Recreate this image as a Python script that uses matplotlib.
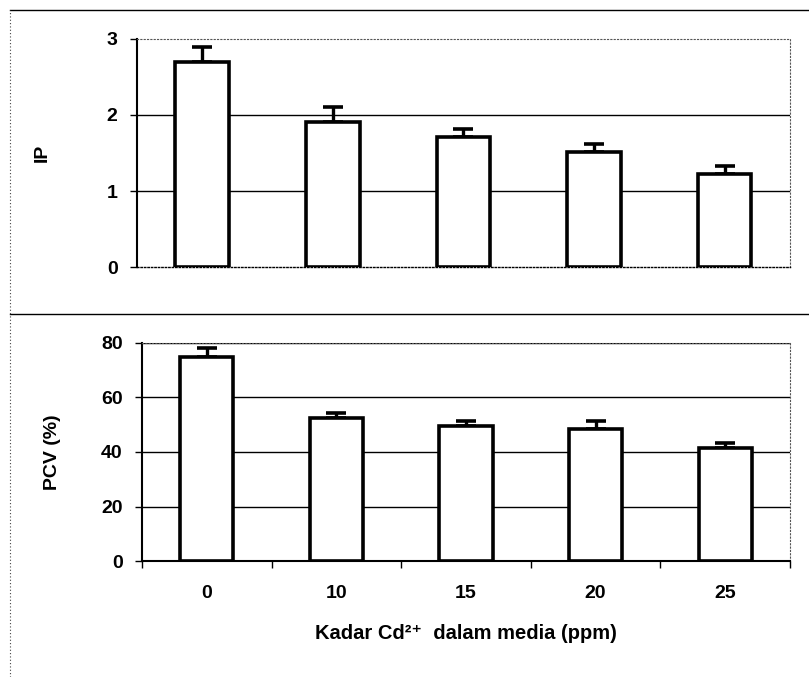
import matplotlib.pyplot as plt
from matplotlib.lines import Line2D
import numpy as np

plt.rcParams['font.family'] = ['Liberation Sans', 'DejaVu Sans']
plt.rcParams['font.weight'] = 'bold'

kadar = ['0', '10', '15', '20', '25']
ip = [2.70, 1.91, 1.71, 1.51, 1.22]
ip_err = [0.19, 0.20, 0.10, 0.11, 0.11]
pcv = [75.0, 52.5, 49.5, 48.4, 41.5]
pcv_err = [3.3, 1.9, 1.9, 3.0, 1.8]

fig = plt.figure(figsize=(8.09, 6.77), dpi=100)
ax1 = fig.add_axes([0.1693, 0.6056, 0.8072, 0.3368])
ax2 = fig.add_axes([0.1755, 0.1713, 0.8010, 0.3221])

x = np.arange(len(kadar))


def draw_panel(ax, vals, errs, ymax, step, ylabel):
    ax.set_axisbelow(True)
    ax.yaxis.grid(True, color='black', linewidth=1.0)
    ax.bar(x, vals, width=0.41, color='white', edgecolor='black', linewidth=2.6, zorder=3)
    ax.errorbar(x, vals, yerr=[[0] * len(vals), errs], fmt='none', ecolor='black',
                elinewidth=2.4, capsize=7, capthick=2.6, zorder=2)
    ax.set_xlim(-0.5, len(vals) - 0.5)
    ax.set_ylim(0, ymax)
    ax.set_yticks(np.arange(0, ymax + step / 2, step))
    ax.tick_params(axis='y', direction='out', length=5, width=1, labelsize=14, pad=9)
    for s in ['top', 'right']:
        ax.spines[s].set_linestyle((0, (1, 2)))
        ax.spines[s].set_color('#555555')
        ax.spines[s].set_linewidth(0.8)
    ax.spines['left'].set_linewidth(1.5)
    ax.set_ylabel(ylabel, fontsize=14, fontweight='bold')


draw_panel(ax1, ip, ip_err, 3, 1, 'IP')
ax1.yaxis.set_label_coords(-0.132, 0.5)
ax1.set_xticks([])
ax1.spines['bottom'].set_linestyle((0, (1, 1.5)))
ax1.spines['bottom'].set_linewidth(1.0)
ax1.yaxis.grid(False)
for v in [1, 2]:
    ax1.axhline(v, color='black', linewidth=1.0, zorder=1)

draw_panel(ax2, pcv, pcv_err, 80, 20, 'PCV (%)')
ax2.yaxis.set_label_coords(-0.125, 0.5)
ax2.set_xticks(x)
ax2.set_xticklabels(kadar)
ax2.set_xticks(np.arange(-0.5, len(kadar)), minor=True)
ax2.tick_params(axis='x', which='major', length=0, labelsize=14, pad=17)
ax2.tick_params(axis='x', which='minor', direction='out', length=5, width=1)
ax2.spines['bottom'].set_linewidth(1.5)
ax2.set_xlabel('Kadar Cd²⁺  dalam media (ppm)', fontsize=14.5, fontweight='bold', labelpad=16)

# panel frames
fig.add_artist(Line2D([0.012, 1.0], [0.985, 0.985], color='black', linewidth=1.0))
fig.add_artist(Line2D([0.012, 1.0], [0.536, 0.536], color='black', linewidth=1.0))
fig.add_artist(Line2D([0.012, 0.012], [0.0, 0.985], color='#444444', linewidth=0.8,
                      linestyle=(0, (1, 2))))

fig.savefig('out.png', dpi=100)
